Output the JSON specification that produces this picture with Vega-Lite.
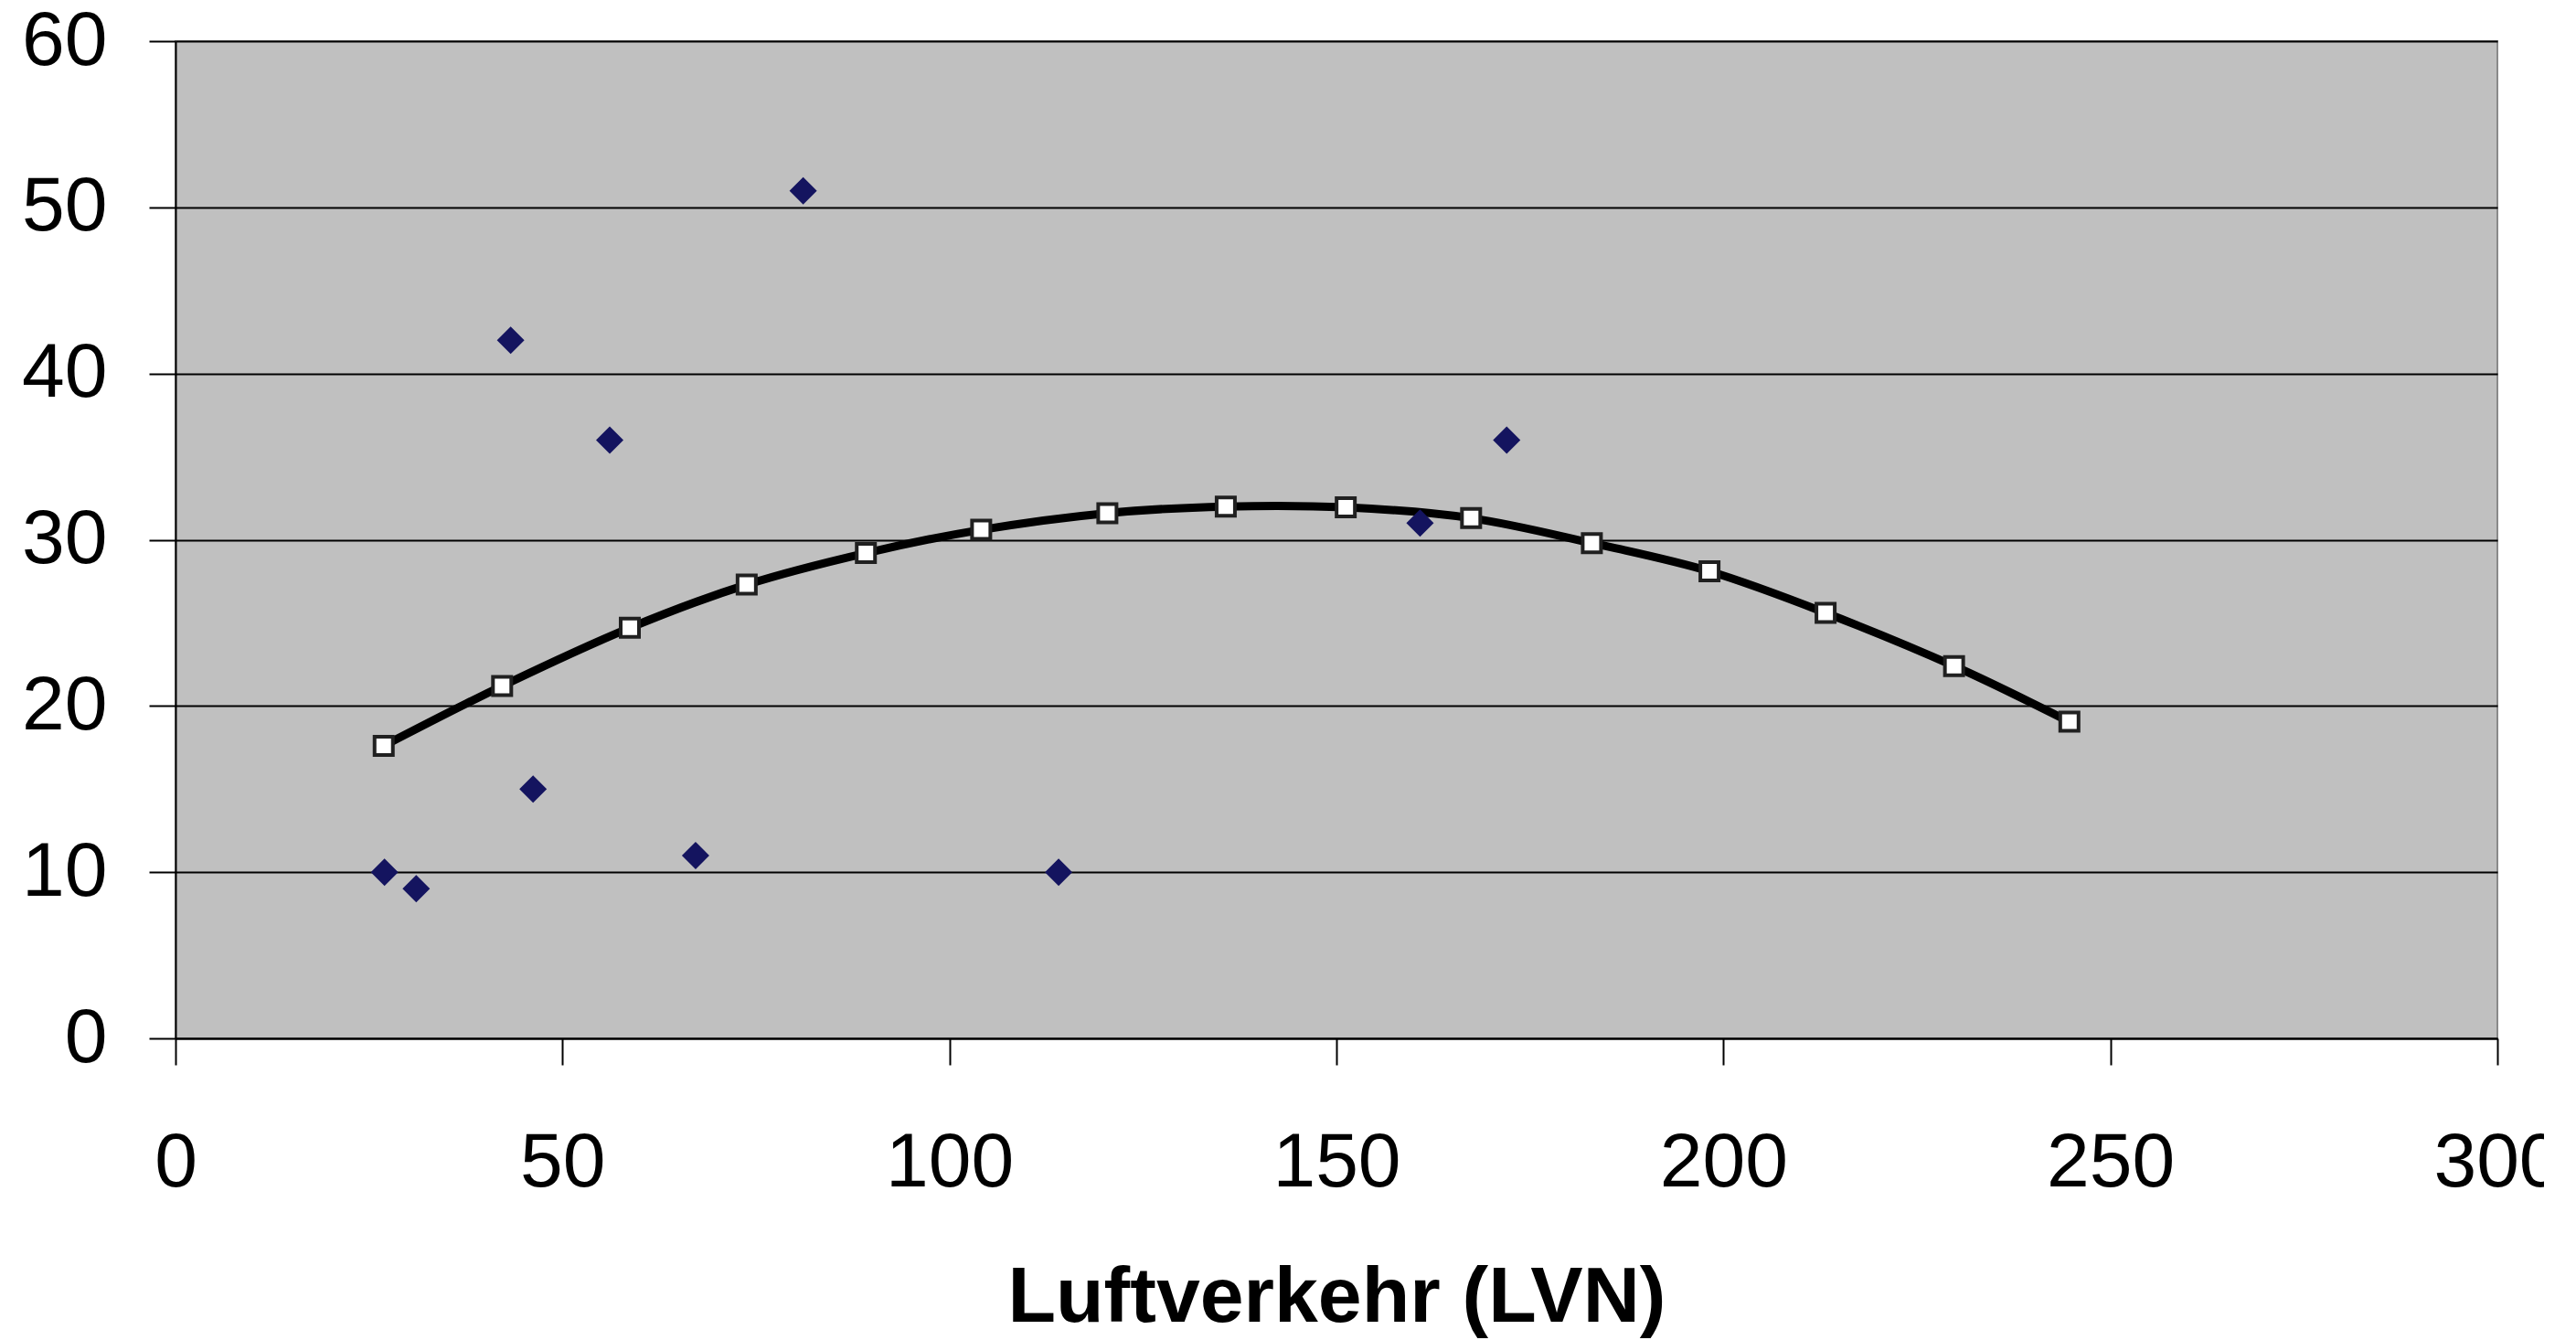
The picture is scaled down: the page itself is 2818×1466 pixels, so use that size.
{
  "$schema": "https://vega.github.io/schema/vega-lite/v6.json",
  "width": 2540,
  "height": 1091,
  "autosize": {"type": "none"},
  "padding": {"left": 192, "top": 45, "right": 51, "bottom": 330},
  "background": "white",
  "config": {
    "view": {"fill": "#c0c0c0", "stroke": "#8a8a8a", "strokeWidth": 2},
    "font": "Liberation Sans"
  },
  "datasets": {
    "obs": [
      {"luftverkehr": 27.0, "wert": 10},
      {"luftverkehr": 31.1, "wert": 9},
      {"luftverkehr": 43.3, "wert": 42},
      {"luftverkehr": 46.2, "wert": 15},
      {"luftverkehr": 56.1, "wert": 36},
      {"luftverkehr": 67.2, "wert": 11},
      {"luftverkehr": 81.1, "wert": 51},
      {"luftverkehr": 114.1, "wert": 10},
      {"luftverkehr": 160.8, "wert": 31},
      {"luftverkehr": 172.0, "wert": 36}
    ],
    "trend": [
      {"luftverkehr": 26.9, "wert": 17.6},
      {"luftverkehr": 42.2, "wert": 21.2},
      {"luftverkehr": 58.7, "wert": 24.7},
      {"luftverkehr": 73.8, "wert": 27.3},
      {"luftverkehr": 89.2, "wert": 29.2},
      {"luftverkehr": 104.1, "wert": 30.6},
      {"luftverkehr": 120.4, "wert": 31.6},
      {"luftverkehr": 135.7, "wert": 32.0},
      {"luftverkehr": 151.2, "wert": 31.95},
      {"luftverkehr": 167.4, "wert": 31.3},
      {"luftverkehr": 183.0, "wert": 29.8},
      {"luftverkehr": 198.2, "wert": 28.1},
      {"luftverkehr": 213.2, "wert": 25.6},
      {"luftverkehr": 229.8, "wert": 22.4},
      {"luftverkehr": 244.7, "wert": 19.05}
    ]
  },
  "encoding": {
    "x": {
      "field": "luftverkehr",
      "type": "quantitative",
      "scale": {"domain": [0, 300], "nice": false, "zero": true},
      "axis": {
        "values": [0, 50, 100, 150, 200, 250, 300],
        "grid": false,
        "domainColor": "black",
        "domainWidth": 2,
        "tickColor": "black",
        "tickWidth": 2,
        "tickSize": 29,
        "labelFont": "Liberation Sans",
        "labelFontSize": 84,
        "labelColor": "black",
        "labelPadding": 66,
        "labelFlush": false,
        "labelOverlap": false,
        "title": "Luftverkehr (LVN)",
        "titleFont": "Liberation Sans",
        "titleFontSize": 86,
        "titleFontWeight": "bold",
        "titleColor": "black",
        "titleBaseline": "alphabetic",
        "titleY": 309
      }
    },
    "y": {
      "field": "wert",
      "type": "quantitative",
      "scale": {"domain": [0, 60], "nice": false},
      "axis": {
        "values": [0, 10, 20, 30, 40, 50, 60],
        "grid": true,
        "gridColor": "black",
        "gridWidth": 2,
        "domainColor": "black",
        "domainWidth": 2,
        "tickColor": "black",
        "tickWidth": 2,
        "tickSize": 29,
        "labelFont": "Liberation Sans",
        "labelFontSize": 84,
        "labelColor": "black",
        "labelPadding": 46,
        "labelFlush": false,
        "labelOverlap": false,
        "title": null
      }
    }
  },
  "layer": [
    {
      "data": {"name": "trend"},
      "mark": {"type": "line", "color": "black", "strokeWidth": 9, "interpolate": "cardinal"}
    },
    {
      "data": {"name": "trend"},
      "mark": {"type": "point", "shape": "square", "filled": true, "fill": "white", "stroke": "#202020", "strokeWidth": 4, "size": 400, "opacity": 1}
    },
    {
      "data": {"name": "obs"},
      "mark": {"type": "point", "shape": "diamond", "filled": true, "color": "#14145f", "size": 900, "opacity": 1}
    }
  ]
}
